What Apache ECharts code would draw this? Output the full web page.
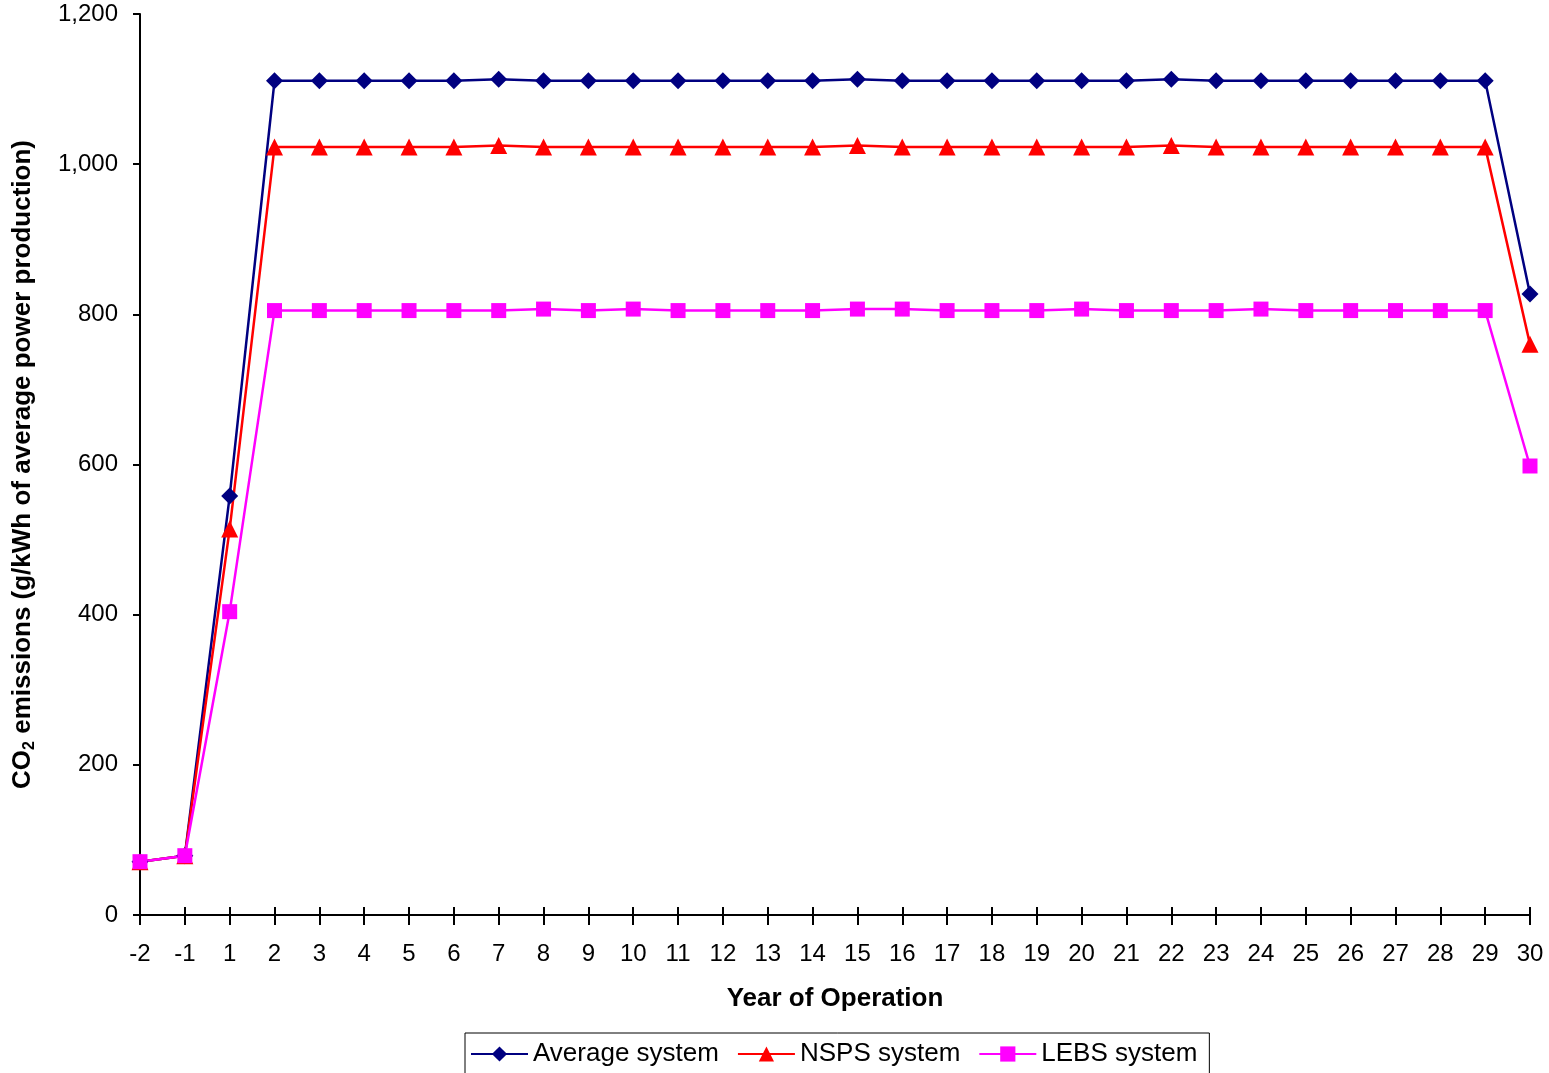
<!DOCTYPE html>
<html>
<head>
<meta charset="utf-8">
<script src="https://cdn.jsdelivr.net/npm/echarts@6/dist/echarts.min.js"></script>
<style>
  html, body { margin: 0; padding: 0; background: #fff; }
  #chart { width: 1549px; height: 1073px; }
</style>
</head>
<body>
<div id="chart"></div>
<script>
const years = ['-2', '-1', '1', '2', '3', '4', '5', '6', '7', '8', '9', '10', '11', '12', '13', '14',
  '15', '16', '17', '18', '19', '20', '21', '22', '23', '24', '25', '26', '27', '28', '29', '30'];

const averageSystem = [71, 79, 558, 1111, 1111, 1111, 1111, 1111, 1113, 1111, 1111, 1111, 1111, 1111,
  1111, 1111, 1113, 1111, 1111, 1111, 1111, 1111, 1111, 1113, 1111, 1111, 1111, 1111, 1111, 1111, 1111, 827];
const nspsSystem = [71, 79, 514, 1023, 1023, 1023, 1023, 1023, 1025, 1023, 1023, 1023, 1023, 1023,
  1023, 1023, 1025, 1023, 1023, 1023, 1023, 1023, 1023, 1025, 1023, 1023, 1023, 1023, 1023, 1023, 1023, 760];
const lebsSystem = [71, 79, 404, 805, 805, 805, 805, 805, 805, 807, 805, 807, 805, 805,
  805, 805, 807, 807, 805, 805, 805, 807, 805, 805, 805, 807, 805, 805, 805, 805, 805, 598];

const font = 'Liberation Sans, Arial, sans-serif';

const chart = echarts.init(document.getElementById('chart'));

function lineSeries(name, data, color, symbol, size) {
  return {
    name: name,
    type: 'line',
    data: data,
    symbol: symbol,
    symbolSize: size,
    lineStyle: { color: color, width: 2.5 },
    itemStyle: { color: color },
    animation: false
  };
}

chart.setOption({
  backgroundColor: '#fff',
  textStyle: { fontFamily: font },
  grid: { left: 140, right: 19, top: 14, bottom: 158 },
  xAxis: [{
    type: 'category',
    data: years,
    boundaryGap: false,
    position: 'bottom',
    name: 'Year of Operation',
    nameLocation: 'middle',
    nameGap: 71,
    nameTextStyle: { fontSize: 26, fontWeight: 'bold', color: '#000', fontFamily: font },
    axisLine: { lineStyle: { color: '#000', width: 2 } },
    axisTick: { length: 10, lineStyle: { color: '#000', width: 2 } },
    axisLabel: { fontSize: 24, color: '#000', margin: 27, interval: 0, fontFamily: font }
  }, {
    type: 'category',
    data: years,
    boundaryGap: false,
    position: 'bottom',
    axisLine: { show: false },
    axisTick: { inside: true, length: 8, lineStyle: { color: '#000', width: 2 } },
    axisLabel: { show: false }
  }],
  yAxis: {
    type: 'value',
    min: 0,
    max: 1200,
    interval: 200,
    name: '{b|CO}{s|2}{b| emissions (g/kWh of average power production)}',
    nameLocation: 'middle',
    nameRotate: 90,
    nameGap: 102,
    nameTextStyle: {
      rich: {
        b: { fontSize: 26, fontWeight: 'bold', color: '#000', fontFamily: font },
        s: { fontSize: 16, fontWeight: 'bold', color: '#000', fontFamily: font, verticalAlign: 'bottom', padding: [14, 0, 0, 0] }
      }
    },
    splitLine: { show: false },
    axisLine: { show: true, lineStyle: { color: '#000', width: 2 } },
    axisTick: { show: true, length: 7, lineStyle: { color: '#000', width: 2 } },
    axisLabel: {
      fontSize: 24,
      color: '#000',
      margin: 22,
      fontFamily: font,
      formatter: v => v.toLocaleString('en-US')
    }
  },
  legend: {
    top: 1033,
    left: 465,
    itemWidth: 57,
    itemHeight: 19,
    itemGap: 18,
    padding: [8, 12, 14, 5],
    borderColor: '#000',
    borderWidth: 1,
    textStyle: { fontSize: 26, color: '#000', fontFamily: font },
    data: ['Average system', 'NSPS system', 'LEBS system']
  },
  series: [
    lineSeries('Average system', averageSystem, '#000080', 'diamond', 17),
    lineSeries('NSPS system', nspsSystem, '#FF0000', 'triangle', 17),
    lineSeries('LEBS system', lebsSystem, '#FF00FF', 'rect', 15)
  ]
});
</script>
</body>
</html>
